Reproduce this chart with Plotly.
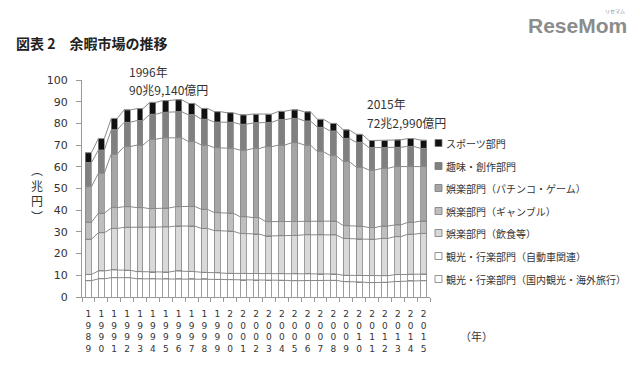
import numpy as np
import plotly.graph_objects as go

years = list(range(1989, 2016))

# 兆円, bottom -> top
tourism = [7.5, 8.4, 8.9, 8.9, 8.4, 8.3, 8.3, 8.4, 8.3, 8.3, 8.1, 8.0, 7.8, 7.8, 7.7, 7.7, 7.5, 7.7, 7.7, 7.7, 7.1, 6.9, 6.6, 6.8, 7.1, 7.4, 7.5]
auto = [2.9, 3.6, 3.6, 3.4, 3.3, 3.2, 3.2, 3.6, 3.4, 3.1, 3.0, 2.9, 3.1, 3.1, 3.1, 3.2, 3.4, 3.2, 2.9, 2.9, 2.9, 3.1, 3.1, 3.0, 3.2, 3.1, 3.1]
food = [16.2, 17.6, 19.1, 19.8, 20.3, 20.6, 20.8, 20.7, 21.0, 20.2, 19.5, 19.4, 18.4, 18.1, 17.3, 17.5, 17.5, 17.8, 18.3, 18.0, 17.0, 16.7, 16.9, 17.2, 17.5, 18.4, 18.7]
gamble = [7.8, 9.0, 9.6, 9.5, 9.2, 8.6, 8.7, 8.9, 9.1, 8.8, 8.3, 8.3, 7.7, 7.6, 6.6, 6.3, 6.3, 6.3, 6.1, 6.4, 5.9, 5.9, 5.4, 5.7, 5.4, 5.5, 5.7]
pachinko = [16.4, 18.4, 24.7, 27.7, 28.8, 32.0, 32.3, 31.8, 29.8, 29.6, 29.9, 29.9, 30.7, 31.8, 34.6, 35.3, 36.4, 35.0, 32.0, 30.1, 29.5, 27.3, 26.5, 26.6, 26.9, 25.7, 25.1]
hobby = [11.1, 10.7, 11.1, 11.2, 11.3, 11.5, 11.8, 12.0, 12.3, 11.9, 11.8, 12.0, 11.9, 11.8, 11.2, 11.7, 11.2, 11.1, 11.2, 11.4, 10.7, 11.4, 10.3, 9.5, 8.9, 9.3, 8.4]
sport = [4.6, 5.3, 5.3, 5.7, 5.5, 5.5, 5.4, 5.5, 5.3, 5.0, 4.8, 4.4, 4.3, 4.1, 3.8, 3.9, 3.9, 4.2, 3.7, 3.5, 3.9, 3.7, 3.3, 3.3, 3.4, 3.6, 3.8]

series_names = [
    "観光・行楽部門（国内観光・海外旅行）",
    "観光・行楽部門（自動車関連）",
    "娯楽部門（飲食等）",
    "娯楽部門（ギャンブル）",
    "娯楽部門（パチンコ・ゲーム）",
    "趣味・創作部門",
    "スポーツ部門",
]
series_vals = [tourism, auto, food, gamble, pachinko, hobby, sport]
colors = ["#ffffff", "#ffffff", "#d9d9d9", "#bfbfbf", "#a5a5a5", "#808080", "#111111"]

xtick_text = ["<br>".join(str(y)) for y in years]

# layout geometry: page has an 8px body margin, so the figure is offset by 8px
OFF = 8
W, H = 640 - OFF, 369 - OFF
L, T = 82 - OFF, 80 - OFF
B = H - (297 - OFF)
R = W - (430 - OFF)
PW, PH = W - L - R, H - T - B


def px(x):  # screen px -> paper
    return (x - OFF - L) / PW


def py(y):
    return (H - B - (y - OFF)) / PH


bw = 0.46
xs = np.arange(len(years))
fig = go.Figure()
for name, vals, c in zip(series_names, series_vals, colors):
    fig.add_trace(go.Bar(x=xs, y=vals, name=name, width=bw,
                         marker=dict(color=c, line=dict(color="#858585", width=0.8)),
                         showlegend=False))

# series lines
cum = np.cumsum(np.array(series_vals), axis=0)
for level in cum:
    lx, ly = [], []
    for i, v in enumerate(level):
        lx += [i - bw / 2, i + bw / 2]
        ly += [v, v]
    fig.add_trace(go.Scatter(x=lx, y=ly, mode="lines", line=dict(color="#8a8a8a", width=1),
                             showlegend=False, hoverinfo="skip"))

fig.update_layout(
    width=W, height=H, barmode="stack",
    margin=dict(l=L, r=R, t=T, b=B, autoexpand=False),
    plot_bgcolor="white", paper_bgcolor="white",
    font=dict(family="Noto Sans CJK JP", color="#333333"),
    xaxis=dict(range=[-0.5, len(years) - 0.5], tickmode="array", tickvals=list(xs),
               ticktext=xtick_text, ticks="", showline=True, linecolor="#9a9a9a",
               linewidth=1, showgrid=False, zeroline=False, ticklabelstandoff=8,
               automargin=False,
               tickfont=dict(family="DejaVu Sans", size=9, color="#333333"),
               minor=dict(tickmode="array", tickvals=[i - 0.5 for i in range(len(years) + 1)],
                          ticks="outside", ticklen=4, tickcolor="#9a9a9a", showgrid=False)),
    yaxis=dict(range=[0, 100], tickmode="array", tickvals=list(range(0, 101, 10)),
               ticks="outside", ticklen=5, tickcolor="#9a9a9a", showline=True,
               linecolor="#9a9a9a", linewidth=1, showgrid=False, zeroline=False,
               ticklabelstandoff=6, automargin=False,
               tickfont=dict(family="DejaVu Sans", size=11, color="#333333")),
)

ann = []
ann.append(dict(text="<b>図表 2　余暇市場の推移</b>", x=px(14), y=py(43), xanchor="left", yanchor="middle",
                font=dict(size=14, color="#222222")))
ann.append(dict(text="<b>ReseMom</b>", x=px(629), y=py(25), xanchor="right", yanchor="middle",
                font=dict(family="Liberation Sans", size=21, color="#8c8c8c")))
ann.append(dict(text="リセマム", x=px(627), y=py(11), xanchor="right", yanchor="middle",
                font=dict(size=5, color="#8c8c8c")))
ann.append(dict(text="1996年", x=px(127), y=py(72), xanchor="left", yanchor="middle",
                font=dict(size=12, color="#333333")))
ann.append(dict(text="90兆9,140億円", x=px(127), y=py(89), xanchor="left", yanchor="middle",
                font=dict(size=12, color="#333333")))
ann.append(dict(text="2015年", x=px(365), y=py(103), xanchor="left", yanchor="middle",
                font=dict(size=12, color="#333333")))
ann.append(dict(text="72兆2,990億円", x=px(365), y=py(122), xanchor="left", yanchor="middle",
                font=dict(size=12, color="#333333")))
ann.append(dict(text="（年）", x=px(458), y=py(336), xanchor="left", yanchor="middle",
                font=dict(size=11, color="#333333")))
ann.append(dict(text="︵<br>兆<br>円<br>︶", x=px(37), y=py(193), xanchor="center", yanchor="middle",
                font=dict(size=12, color="#333333")))

shapes = []
leg_y = [143, 166, 188, 211, 233, 256, 279]
for k, yy in enumerate(leg_y):
    idx = len(series_names) - 1 - k
    shapes.append(dict(type="rect", xref="paper", yref="paper",
                       x0=px(435), x1=px(442), y0=py(yy + 3.5), y1=py(yy - 3.5),
                       fillcolor=colors[idx], line=dict(color="#777777", width=0.8)))
    ann.append(dict(text=series_names[idx], x=px(444), y=py(yy), xanchor="left", yanchor="middle",
                    font=dict(size=10, color="#333333")))

for a in ann:
    a.update(xref="paper", yref="paper", showarrow=False)
fig.update_layout(annotations=ann, shapes=shapes)

fig.write_html("out.html")
